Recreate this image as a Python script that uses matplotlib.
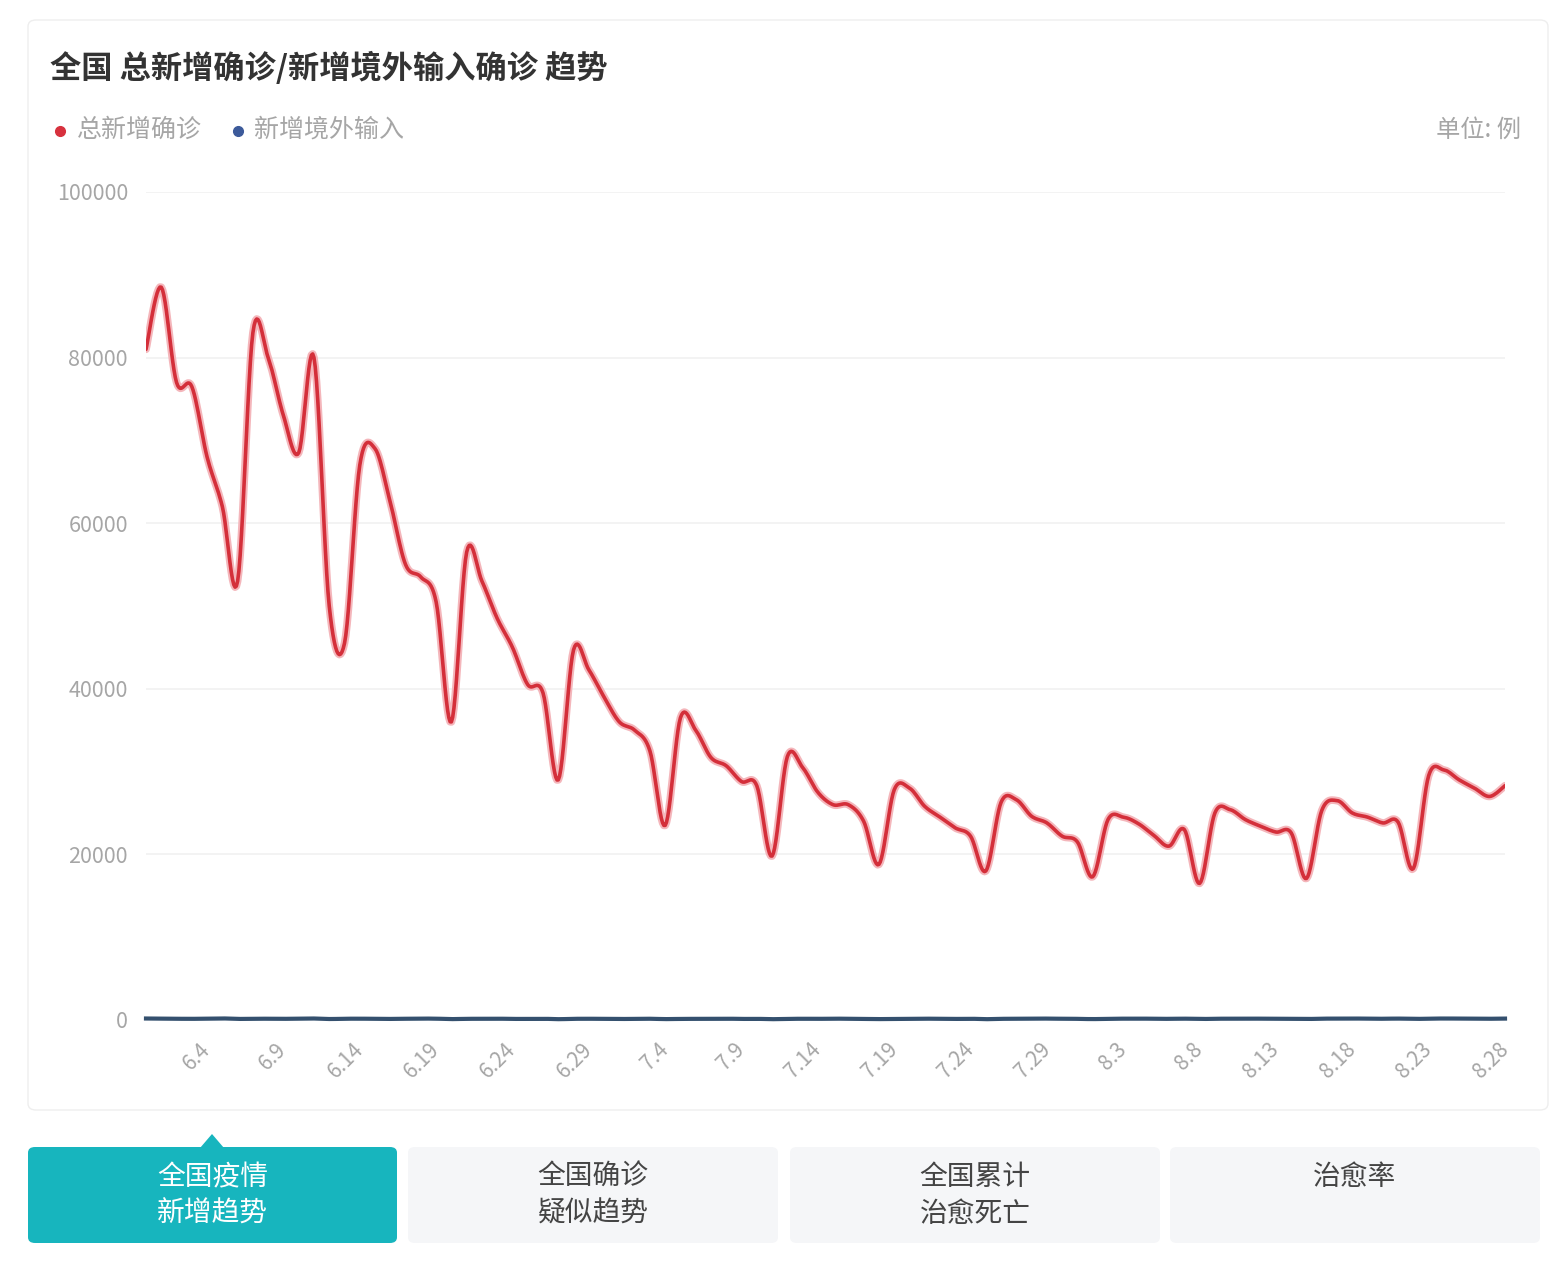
import numpy as np
import pandas as pd
import matplotlib
matplotlib.use("Agg")
import matplotlib.pyplot as plt
from matplotlib.patches import FancyBboxPatch, Polygon
from matplotlib.lines import Line2D

plt.rcParams['font.family'] = ['Noto Sans CJK SC', 'DejaVu Sans']

# =========================
# data
# =========================
dates = pd.date_range("2022-05-31", "2022-08-28", freq="D")
date_labels = [f"{d.month}.{d.day}" for d in dates]

total_new = [
    81000, 88500, 77000, 76500, 68000, 62000, 53000, 83000, 80000, 73000,
    68500, 80000, 50000, 45500, 67000, 69000, 62500, 55000, 53500, 50500,
    36000, 56500, 53000, 48500, 45000, 40500, 39500, 29000, 44700, 42300,
    39000, 36000, 35000, 32500, 23500, 36500, 35000, 31700, 30700, 28800,
    28300, 19800, 31800, 30500, 27500, 26000, 26000, 24000, 18800, 27800,
    28000, 25800, 24500, 23200, 22200, 18000, 26300, 26600, 24600, 23800,
    22200, 21500, 17300, 24200, 24500, 23700, 22300, 21000, 23000, 16500,
    25000, 25400, 24200, 23400, 22700, 22600, 17100, 25300, 26500, 25000,
    24500, 23800, 23900, 18300, 29500, 30200, 29000, 28000, 27000, 28300,
]

imported_new = [
    180, 160, 150, 140, 170, 190, 130, 160, 150, 140,
    170, 180, 120, 150, 160, 140, 130, 150, 170, 160,
    110, 140, 150, 160, 130, 140, 150, 100, 140, 150,
    130, 120, 140, 150, 110, 130, 140, 150, 160, 130,
    140, 100, 130, 150, 140, 160, 150, 130, 110, 140,
    150, 160, 140, 130, 150, 100, 140, 150, 160, 170,
    150, 140, 110, 150, 160, 170, 150, 140, 160, 120,
    150, 160, 170, 160, 150, 140, 120, 160, 170, 180,
    160, 150, 170, 130, 160, 180, 170, 160, 150, 170,
]

y_ticks = [0, 20000, 40000, 60000, 80000, 100000]
label_idx = list(range(4, len(dates), 5))

tab_labels = ["全国疫情\n新增趋势", "全国确诊\n疑似趋势", "全国累计\n治愈死亡", "治愈率"]

# =========================
# helpers
# =========================
W, H = 1563, 1280
fig = plt.figure(figsize=(W / 100, H / 100), dpi=100)
fig.patch.set_facecolor("white")


def fx(x):
    return x / W


def fy(y):
    return 1 - y / H


def box(x0, y0, x1, y1, fc, ec="none", r=6, z=0):
    p = FancyBboxPatch((fx(x0), fy(y1)), fx(x1 - x0), (y1 - y0) / H,
                       boxstyle=f"round,pad=0,rounding_size={r / W}",
                       transform=fig.transFigure, facecolor=fc, edgecolor=ec,
                       linewidth=1, zorder=z)
    fig.add_artist(p)


def smooth(xs, ys, n=12):
    # Catmull-Rom spline through the points
    xs = np.asarray(xs, float)
    ys = np.asarray(ys, float)
    px = np.concatenate([[xs[0]], xs, [xs[-1]]])
    py = np.concatenate([[ys[0]], ys, [ys[-1]]])
    out_x, out_y = [], []
    t = np.linspace(0, 1, n, endpoint=False)
    for i in range(1, len(px) - 2):
        for arr, out in ((px, out_x), (py, out_y)):
            p0, p1, p2, p3 = arr[i - 1], arr[i], arr[i + 1], arr[i + 2]
            out.extend(0.5 * ((2 * p1) + (-p0 + p2) * t
                              + (2 * p0 - 5 * p1 + 4 * p2 - p3) * t ** 2
                              + (-p0 + 3 * p1 - 3 * p2 + p3) * t ** 3))
    out_x.append(xs[-1])
    out_y.append(ys[-1])
    return np.array(out_x), np.array(out_y)


# =========================
# card + header
# =========================
box(28, 20, 1548, 1110, "white", ec="#eeeeee", r=8)

fig.text(fx(50), fy(68), "全国 总新增确诊/新增境外输入确诊 趋势", fontsize=22.5,
         fontweight="bold", color="#333333", va="center", ha="left")

fig.add_artist(Line2D([fx(60)], [fy(131)], marker="o", markersize=7,
                      color="#d7313e", transform=fig.transFigure))
fig.text(fx(77), fy(130), "总新增确诊", fontsize=18, color="#a6a6a6", va="center")
fig.add_artist(Line2D([fx(238)], [fy(131)], marker="o", markersize=7,
                      color="#3c5a9a", transform=fig.transFigure))
fig.text(fx(254), fy(130), "新增境外输入", fontsize=18, color="#a6a6a6", va="center")
fig.text(fx(1521), fy(130), "单位: 例", fontsize=17.5, color="#a6a6a6",
         va="center", ha="right")

# =========================
# chart
# =========================
ax = fig.add_axes([fx(146), (H - 1020) / H, (1505 - 146) / W, 828 / H])
x = np.arange(len(dates))

sx, sy = smooth(x, total_new)
ax.plot(sx, sy, color="#f4b6bb", lw=5.5, solid_capstyle="round", zorder=3)
ax.plot(sx, sy, color="#d42f3a", lw=2.6, solid_capstyle="round", zorder=4)

bx, by = smooth(x, imported_new)
ax.plot(bx, by, color="#34506e", lw=3, zorder=5, clip_on=False)

ax.set_xlim(0, len(dates) - 1)
ax.set_ylim(0, 100000)
ax.set_yticks(y_ticks)
ax.set_yticklabels([str(v) for v in y_ticks])
ax.set_xticks(label_idx)
ax.set_xticklabels([date_labels[i] for i in label_idx], rotation=45,
                   ha="right", va="center", rotation_mode="anchor")
ax.tick_params(axis="both", length=0, colors="#a6a6a6")
ax.tick_params(axis="y", pad=13, labelsize=15.5)
ax.tick_params(axis="x", pad=19, labelsize=15)
ax.grid(axis="y", color="#f1f1f1", lw=1.2)
ax.set_axisbelow(True)
for s in ax.spines.values():
    s.set_visible(False)

# =========================
# tabs
# =========================
tab_x = [(28, 397), (408, 778), (790, 1160), (1170, 1540)]
for k, ((x0, x1), lab) in enumerate(zip(tab_x, tab_labels)):
    active = k == 0
    box(x0, 1147, x1, 1243, "#17b5be" if active else "#f5f6f8", r=7)
    cx = (x0 + x1) / 2
    lines = lab.split("\n")
    for j, line in enumerate(lines):
        fig.text(fx(cx), fy(1177 + j * 37), line, fontsize=20,
                 color="white" if active else "#444444", ha="center", va="center")

fig.add_artist(Polygon([(fx(200), fy(1148)), (fx(212), fy(1134)), (fx(224), fy(1148))],
                       closed=True, transform=fig.transFigure,
                       facecolor="#17b5be", edgecolor="none"))

fig.savefig("out.png", dpi=100)
